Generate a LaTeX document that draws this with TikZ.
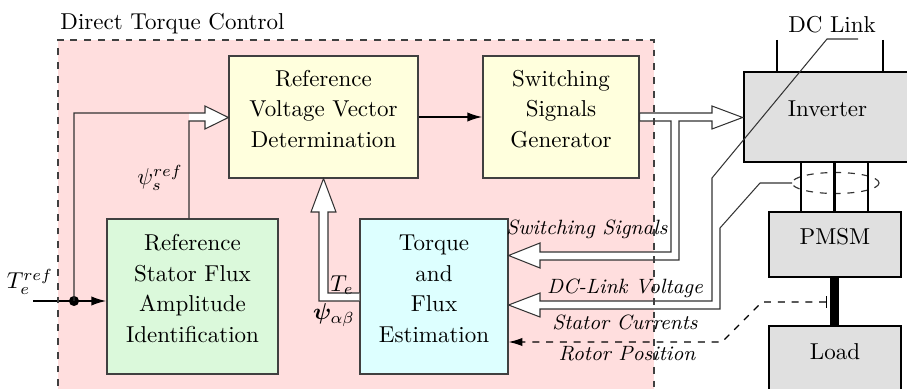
\documentclass[tikz,border=0pt]{standalone}
\usepackage{bm}
\usetikzlibrary{arrows.meta,fit,calc}

\definecolor{dtcbg}{RGB}{255,222,222}
\definecolor{ylw}{RGB}{255,255,221}
\definecolor{grn}{RGB}{219,249,219}
\definecolor{cyn}{RGB}{221,255,255}
\definecolor{plantgray}{RGB}{224,224,224}

\tikzset{
  block/.style={draw=black!75, line width=0.5pt, inner sep=0pt, align=center,
    font=\fontsize{10}{13.3}\selectfont},
  plant/.style={draw=black, line width=1.2pt, fill=plantgray, inner sep=0pt},
  pipe/.style={draw=black!80, line width=0.45pt, line join=miter},
  pipefill/.style={fill=white, draw=none},
  sig/.style={line width=0.8pt, -{Latex[length=6.5pt,width=4pt]}},
  lab/.style={font=\small\itshape, inner sep=1pt},
}

\begin{document}
\begin{tikzpicture}[x=0.435pt, y=-0.435pt]
  \useasboundingbox (0,0) rectangle (907,389);
  \clip (0,0) rectangle (907,389);

  % controller area
  \fill[dtcbg] (58,40) rectangle (654,400);
  \node[anchor=base west, inner sep=0pt] (dtclabel) at (60,30) {Direct Torque Control};

  % controller blocks
  \node[block, fill=ylw, fit={(229,56) (418,178)}] (rvvd)
    {Reference\\Voltage Vector\\Determination};
  \node[block, fill=ylw, fit={(483,56) (639,178)}] (ssg)
    {Switching\\Signals\\Generator};
  \node[block, fill=grn, fit={(107,219) (278,374)}] (rsfa)
    {Reference\\Stator Flux\\Amplitude\\Identification};
  \node[block, fill=cyn, fit={(360,219) (508,374)}] (tfe)
    {Torque\\and\\Flux\\Estimation};

  % drive side
  \node[plant, fit={(744,72) (911,162)}] (inv) {Inverter};
  \node[plant, fit={(769,212) (901,277)}] (pmsm) {PMSM};
  \node[plant, fit={(769,326) (901,394)}] (load) {Load};

  \coordinate (dcl) at (777,40);
  \coordinate (dcr) at (883,40);
  \draw[line width=1.2pt] (dcl) -- (dcl |- inv.north);
  \draw[line width=1.2pt] (dcr) -- (dcr |- inv.north);
  \node (dclink) at (832,25) {DC Link};

  % current sensor around the phase lines
  \draw[dashed, black!80, line width=0.5pt] (835.5,183) ellipse [x radius=43.5, y radius=10.5];
  \coordinate (sens) at (792,183);
  \foreach \px/\nm in {801/pa,834.5/pb,868/pc}{
    \coordinate (\nm) at (\px,162);
    \draw[line width=1.2pt] (\nm) -- (\nm |- pmsm.north);
  }
  % shaft
  \coordinate (shaft) at (834.5,277);
  \draw[line width=4pt] (shaft) -- (shaft |- load.north);

  % torque reference input
  \coordinate (tin) at (33,301);
  \coordinate (tjn) at (74,301);
  \draw[sig] (tin) -- (rsfa.west |- tin);
  \fill (tjn) circle [radius=2.2pt];
  \node (lte) at (30,282) {$T_e^{ref}$};

  % T_e^ref and psi_s^ref into the voltage vector block
  \fill[pipefill] (189,113) -- (205,113) -- (205,106) -- (rvvd.west |- 0,117.5)
    -- (205,129) -- (205,121) -- (189,121) -- cycle;
  \draw[pipe] (tjn) |- (205,113) -- (205,106) -- (rvvd.west |- 0,117.5)
    -- (205,129) -- (205,121) -| (rsfa.north -| 189,0);
  \node (lpsi) at (160,178) {$\psi_s^{ref}$};

  % voltage vector to switching signals
  \draw[sig] (rvvd.east |- 0,117) -- (ssg.west |- 0,117);

  % estimated torque and flux back to the voltage vector block
  \draw[pipe, fill=white] (tfe.west |- 0,293) -- (328,293) -- (328,212) -- (336,212)
    -- (rvvd.south -| 323.5,0) -- (311,212) -- (319,212) -- (319,301) -- (tfe.west |- 0,301);
  \node (lte2) at (342,285) {$T_e$};
  \node (lpab) at (334,315) {$\bm{\psi}_{\alpha\beta}$};

  % switching signals to the inverter and to the estimator
  \draw[pipe, fill=white] (ssg.east |- 0,113) -- (712,113) -- (712,106)
    -- (inv.west |- 0,117.5) -- (712,129) -- (712,121) -- (679,121) -- (679,260)
    -- (540,260) -- (540,268) -- (tfe.east |- 0,255.5) -- (540,243) -- (540,252)
    -- (671,252) -- (671,121) -- (ssg.east |- 0,121) -- cycle;

  % DC-link voltage and stator currents to the estimator
  \fill[pipefill] (712,228) -- (712,301) -- (540,301) -- (540,293)
    -- (tfe.east |- 0,305) -- (540,317) -- (540,309) -- (720,309) -- (720,228) -- cycle;
  \draw[pipe] (858,39) -- (827,39) -- (712,178) -- (712,301) -- (540,301) -- (540,293)
    -- (tfe.east |- 0,305) -- (540,317) -- (540,309) -- (720,309) -- (720,228)
    -- (760,183) -- (sens);

  % rotor position
  \coordinate (rpos) at (827,302);
  \draw[dashed, line width=0.5pt, {Bar[width=5pt]}-{Latex[length=6pt,width=3.6pt]}]
    (rpos) -- (762,302) -- (722,342) -- (tfe.east |- 0,342);

  % signal labels
  \node[lab] (lsw) at (587,229) {Switching Signals};
  \node[lab] (ldc) at (625,288) {DC-Link Voltage};
  \node[lab] (lsc) at (625,322) {Stator Currents};
  \node[lab] (lrp) at (627,354) {Rotor Position};

  % controller boundary
  \draw[dashed, black!75, line width=0.5pt] (58,400) -- (58,40) -- (654,40) -- (654,400);
\end{tikzpicture}
\end{document}
